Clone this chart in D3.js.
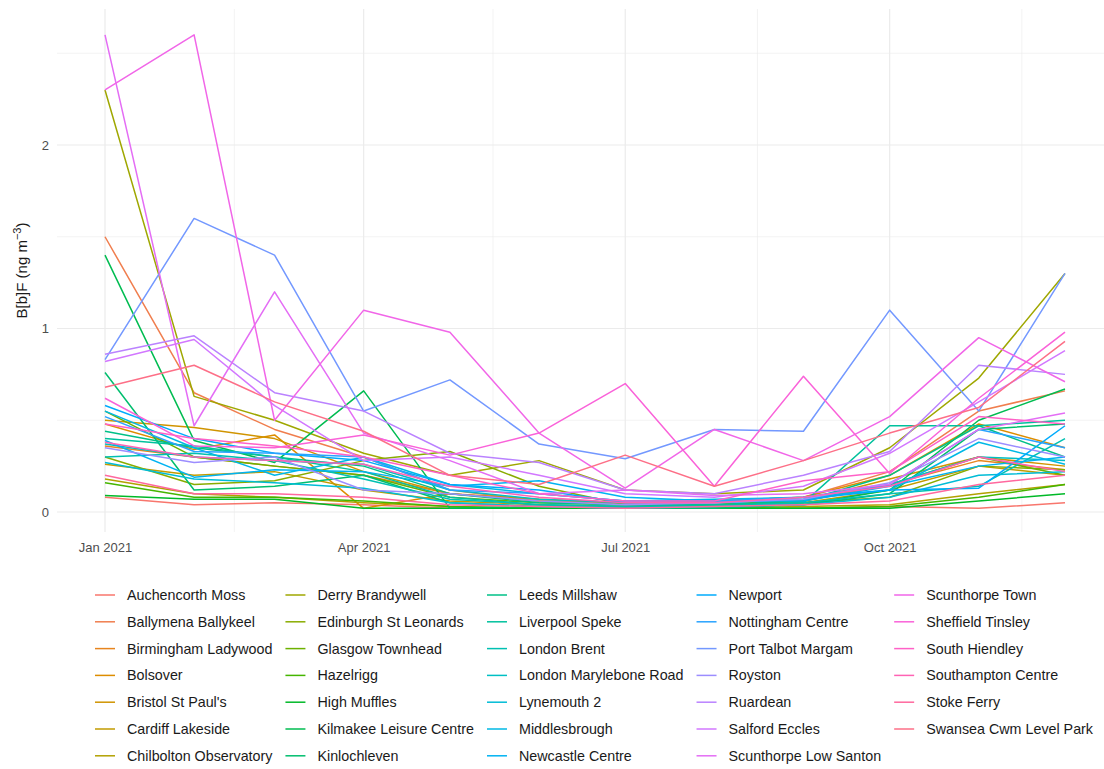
<!DOCTYPE html>
<html>
<head>
<meta charset="utf-8">
<script src="https://cdn.jsdelivr.net/npm/d3@7/dist/d3.min.js"></script>
<style>
  html, body { margin: 0; padding: 0; background: #ffffff; }
  svg { display: block; font-family: "Liberation Sans", Arial, sans-serif; }
</style>
</head>
<body>
<svg id="chart" width="1104" height="769"></svg>
<script>
// Monthly mean B[b]F concentrations, 2021
const monthStarts = ["2021-01-01","2021-02-01","2021-03-01","2021-04-01","2021-05-01","2021-06-01",
                     "2021-07-01","2021-08-01","2021-09-01","2021-10-01","2021-11-01","2021-12-01"];

const siteNames = [
  "Auchencorth Moss","Ballymena Ballykeel","Birmingham Ladywood","Bolsover","Bristol St Paul's",
  "Cardiff Lakeside","Chilbolton Observatory","Derry Brandywell","Edinburgh St Leonards","Glasgow Townhead",
  "Hazelrigg","High Muffles","Kilmakee Leisure Centre","Kinlochleven","Leeds Millshaw",
  "Liverpool Speke","London Brent","London Marylebone Road","Lynemouth 2","Middlesbrough",
  "Newcastle Centre","Newport","Nottingham Centre","Port Talbot Margam","Royston",
  "Ruardean","Salford Eccles","Scunthorpe Low Santon","Scunthorpe Town","Sheffield Tinsley",
  "South Hiendley","Southampton Centre","Stoke Ferry","Swansea Cwm Level Park"
];

// one row per site, Jan..Dec (ng m-3)
const siteValues = [
  [0.08,0.04,0.05,0.04,0.02,0.02,0.02,0.02,0.02,0.03,0.02,0.05],
  [1.50,0.65,0.45,0.30,0.12,0.06,0.05,0.06,0.08,0.22,0.55,0.66],
  [0.36,0.30,0.25,0.20,0.10,0.06,0.04,0.04,0.06,0.15,0.28,0.23],
  [0.48,0.34,0.42,0.02,0.10,0.07,0.05,0.06,0.08,0.20,0.48,0.35],
  [0.50,0.46,0.40,0.22,0.10,0.06,0.04,0.04,0.06,0.18,0.30,0.25],
  [0.26,0.20,0.22,0.12,0.06,0.04,0.03,0.03,0.05,0.12,0.25,0.20],
  [0.18,0.10,0.08,0.05,0.03,0.02,0.02,0.02,0.03,0.04,0.10,0.15],
  [2.30,0.63,0.50,0.32,0.20,0.28,0.12,0.10,0.12,0.35,0.73,1.30],
  [0.30,0.15,0.17,0.28,0.33,0.14,0.04,0.03,0.05,0.08,0.25,0.23],
  [0.55,0.30,0.25,0.20,0.08,0.05,0.04,0.04,0.06,0.15,0.30,0.20],
  [0.16,0.08,0.08,0.06,0.03,0.02,0.02,0.02,0.02,0.03,0.08,0.15],
  [0.09,0.07,0.07,0.02,0.02,0.02,0.02,0.02,0.02,0.02,0.06,0.10],
  [1.40,0.39,0.27,0.66,0.02,0.03,0.02,0.03,0.04,0.12,0.50,0.67],
  [0.76,0.12,0.14,0.20,0.05,0.03,0.02,0.02,0.04,0.10,0.45,0.48],
  [0.44,0.35,0.30,0.25,0.10,0.05,0.04,0.04,0.06,0.20,0.47,0.30],
  [0.40,0.36,0.30,0.22,0.08,0.04,0.03,0.04,0.05,0.47,0.47,0.50],
  [0.30,0.32,0.28,0.18,0.07,0.04,0.03,0.03,0.05,0.10,0.14,0.40],
  [0.37,0.30,0.28,0.26,0.12,0.07,0.05,0.05,0.07,0.15,0.30,0.28],
  [0.27,0.18,0.16,0.13,0.05,0.03,0.02,0.03,0.04,0.08,0.20,0.22],
  [0.55,0.35,0.20,0.30,0.15,0.10,0.06,0.07,0.08,0.12,0.38,0.26],
  [0.39,0.19,0.23,0.22,0.14,0.17,0.08,0.06,0.06,0.14,0.25,0.30],
  [0.58,0.40,0.32,0.28,0.15,0.12,0.05,0.05,0.07,0.12,0.13,0.47],
  [0.52,0.33,0.32,0.30,0.12,0.10,0.06,0.06,0.08,0.15,0.45,0.35],
  [0.83,1.60,1.40,0.55,0.72,0.37,0.29,0.45,0.44,1.10,0.55,1.30],
  [0.35,0.27,0.30,0.12,0.10,0.06,0.04,0.05,0.07,0.16,0.40,0.30],
  [0.86,0.96,0.65,0.55,0.32,0.27,0.12,0.10,0.20,0.33,0.80,0.75],
  [0.82,0.94,0.58,0.28,0.30,0.20,0.10,0.08,0.14,0.32,0.60,0.88],
  [2.60,0.47,1.20,0.43,0.28,0.10,0.12,0.09,0.10,0.15,0.45,0.54],
  [2.30,2.60,0.50,1.10,0.98,0.43,0.13,0.45,0.28,0.52,0.95,0.71],
  [0.62,0.36,0.35,0.42,0.31,0.43,0.70,0.14,0.74,0.21,0.62,0.98],
  [0.48,0.40,0.36,0.30,0.20,0.10,0.06,0.06,0.17,0.22,0.52,0.48],
  [0.38,0.30,0.28,0.26,0.14,0.08,0.05,0.05,0.08,0.14,0.30,0.22],
  [0.20,0.10,0.10,0.08,0.04,0.03,0.02,0.03,0.04,0.06,0.15,0.20],
  [0.68,0.80,0.60,0.44,0.20,0.15,0.31,0.14,0.28,0.43,0.57,0.93]
];

const xTickDates = ["2021-01-01","2021-04-01","2021-07-01","2021-10-01"];
const xMinorDates = ["2021-02-15","2021-05-16","2021-08-16","2021-11-16"];
const yTicks = [0, 1, 2];
const yMinor = [0.5, 1.5, 2.5];

// polar LUV (hcl) -> sRGB, as used by the default discrete hue palette
function hclLuv(h, c, l) {
  const Xn = 95.047, Yn = 100.0, Zn = 108.883;
  const un = 4 * Xn / (Xn + 15 * Yn + 3 * Zn);
  const vn = 9 * Yn / (Xn + 15 * Yn + 3 * Zn);
  const hr = h * Math.PI / 180;
  const u = c * Math.cos(hr), v = c * Math.sin(hr);
  const Y = l > 8 ? Yn * Math.pow((l + 16) / 116, 3) : Yn * l / 903.3;
  const up = u / (13 * l) + un, vp = v / (13 * l) + vn;
  const X = 9 * Y * up / (4 * vp);
  const Z = Y * (12 - 3 * up - 20 * vp) / (4 * vp);
  const x = X / 100, y = Y / 100, z = Z / 100;
  const lin = [
     3.2404542 * x - 1.5371385 * y - 0.4985314 * z,
    -0.9692660 * x + 1.8760108 * y + 0.0415560 * z,
     0.0556434 * x - 0.2040259 * y + 1.0572252 * z
  ];
  const g = lin.map(t => {
    const s = t <= 0.0031308 ? 12.92 * t : 1.055 * Math.pow(t, 1 / 2.4) - 0.055;
    return Math.round(Math.max(0, Math.min(1, s)) * 255);
  });
  return d3.rgb(g[0], g[1], g[2]).formatHex();
}

const n = siteNames.length;
const hueStep = (360 - 360 / n) / (n - 1);
const palette = siteNames.map((_, i) => hclLuv(15 + i * hueStep, 100, 65));
const color = d3.scaleOrdinal().domain(siteNames).range(palette);

const parse = d3.utcParse("%Y-%m-%d");
const dates = monthStarts.map(parse);

const svg = d3.select("#chart");

// panel extents
const panel = { left: 57, right: 1113, top: 9, bottom: 532 };

const x = d3.scaleUtc()
  .domain([dates[0], dates[dates.length - 1]])
  .range([105, 1065]);

const y = d3.scaleLinear()
  .domain([0, 2])
  .range([512, 145]);

const grid = svg.append("g");

// minor grid
grid.selectAll("line.ymin").data(yMinor).join("line")
  .attr("x1", panel.left).attr("x2", panel.right)
  .attr("y1", d => y(d)).attr("y2", d => y(d))
  .attr("stroke", "#ebebeb").attr("stroke-width", 0.6);
grid.selectAll("line.xmin").data(xMinorDates.map(parse)).join("line")
  .attr("y1", panel.top).attr("y2", panel.bottom)
  .attr("x1", d => x(d)).attr("x2", d => x(d))
  .attr("stroke", "#ebebeb").attr("stroke-width", 0.6);

// major grid
grid.selectAll("line.ymaj").data(yTicks).join("line")
  .attr("x1", panel.left).attr("x2", panel.right)
  .attr("y1", d => y(d)).attr("y2", d => y(d))
  .attr("stroke", "#ebebeb").attr("stroke-width", 1.2);
grid.selectAll("line.xmaj").data(xTickDates.map(parse)).join("line")
  .attr("y1", panel.top).attr("y2", panel.bottom)
  .attr("x1", d => x(d)).attr("x2", d => x(d))
  .attr("stroke", "#ebebeb").attr("stroke-width", 1.2);

// series lines
const line = d3.line()
  .x((d, i) => x(dates[i]))
  .y(d => y(d));

svg.append("g")
  .selectAll("path")
  .data(siteNames.map((name, i) => ({ name, values: siteValues[i] })))
  .join("path")
  .attr("d", d => line(d.values))
  .attr("fill", "none")
  .attr("stroke", d => color(d.name))
  .attr("stroke-width", 1.5)
  .attr("stroke-linejoin", "round");

// axes (text only, no domain lines or ticks)
const xAxis = svg.append("g")
  .attr("transform", `translate(0,${panel.bottom})`)
  .call(d3.axisBottom(x).tickValues(xTickDates.map(parse)).tickFormat(d3.utcFormat("%b %Y")).tickSize(0).tickPadding(11));
xAxis.select(".domain").remove();
xAxis.selectAll("text").attr("fill", "#4d4d4d").style("font-size", "13px")
  .style("font-family", "'Liberation Sans', Arial, sans-serif");

const yAxis = svg.append("g")
  .attr("transform", `translate(${panel.left},0)`)
  .call(d3.axisLeft(y).tickValues(yTicks).tickFormat(d3.format("d")).tickSize(0).tickPadding(8));
yAxis.select(".domain").remove();
yAxis.selectAll("text").attr("fill", "#4d4d4d").style("font-size", "13px")
  .style("font-family", "'Liberation Sans', Arial, sans-serif");

// y-axis title with superscript
const yTitle = svg.append("text")
  .attr("transform", `translate(27,${(panel.top + panel.bottom) / 2}) rotate(-90)`)
  .attr("text-anchor", "middle")
  .attr("fill", "#1a1a1a")
  .style("font-size", "15px");
yTitle.append("tspan").text("B[b]F (ng m");
yTitle.append("tspan").attr("dy", -6).style("font-size", "11px").text("\u22123");
yTitle.append("tspan").attr("dy", 6).text(")");

// legend: 5 columns, 7 rows, filled column-wise
const rowsPerCol = 7;
const rowY0 = 595, rowStep = 26.8;
const keyW = 20, keyGap = 12, colGap = 13;
const legend = svg.append("g").style("font-size", "14.3px");

let colX = 95;
const nCols = Math.ceil(n / rowsPerCol);
for (let c = 0; c < nCols; c++) {
  const names = siteNames.slice(c * rowsPerCol, (c + 1) * rowsPerCol);
  let maxW = 0;
  names.forEach((name, r) => {
    const yy = rowY0 + r * rowStep;
    legend.append("line")
      .attr("x1", colX).attr("x2", colX + keyW)
      .attr("y1", yy).attr("y2", yy)
      .attr("stroke", color(name)).attr("stroke-width", 1.5);
    const t = legend.append("text")
      .attr("x", colX + keyW + keyGap).attr("y", yy)
      .attr("dy", "0.35em")
      .attr("fill", "#1a1a1a")
      .text(name);
    maxW = Math.max(maxW, t.node().getComputedTextLength());
  });
  colX = colX + keyW + keyGap + maxW + colGap;
}
</script>
</body>
</html>
